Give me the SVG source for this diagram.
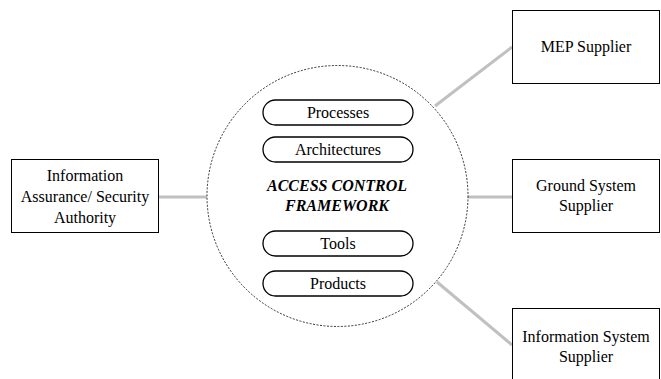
<svg xmlns="http://www.w3.org/2000/svg" width="661" height="379" viewBox="0 0 661 379" font-family="'Liberation Serif', 'Times New Roman', Times, serif">
<style>
.box{fill:#fff;stroke:#000;stroke-width:1}
.pill{fill:#fff;stroke:#000;stroke-width:1.3}
text{font-family:'Liberation Serif','Times New Roman',Times,serif;font-size:16px;fill:#000;text-anchor:middle}
.b{font-weight:bold;font-style:italic}
.c{stroke:#c0c0c0;stroke-width:3;fill:none}
</style>
<rect width="661" height="379" fill="#fff"/>
<g id="connectors">
<line class="c" x1="158" y1="197" x2="207" y2="197"/>
<line class="c" x1="435" y1="106" x2="512" y2="47"/>
<line class="c" x1="467" y1="197" x2="512" y2="197"/>
<line class="c" x1="437" y1="282" x2="512" y2="345"/>
</g>
<g id="framework">
<circle cx="337.5" cy="196" r="130.5" fill="#fff" stroke="#000" stroke-width="0.8" stroke-dasharray="2,1.5"/>
<text class="b" x="337" y="191">ACCESS CONTROL</text>
<text class="b" x="337" y="211">FRAMEWORK</text>
</g>
<g id="processes"><rect class="pill" x="263" y="100" width="150" height="25" rx="12.5"/><text x="338" y="118">Processes</text></g>
<g id="architectures"><rect class="pill" x="263" y="137" width="150" height="25" rx="12.5"/><text x="338" y="155">Architectures</text></g>
<g id="tools"><rect class="pill" x="263" y="231" width="150" height="25" rx="12.5"/><text x="338" y="249">Tools</text></g>
<g id="products"><rect class="pill" x="263" y="271" width="150" height="25" rx="12.5"/><text x="338" y="289">Products</text></g>
<g id="ia-authority"><rect class="box" x="11.5" y="159.5" width="147" height="73"/>
<text x="85" y="181">Information</text>
<text x="85" y="202">Assurance/ Security</text>
<text x="85" y="223">Authority</text></g>
<g id="mep-supplier"><rect class="box" x="512.5" y="10.5" width="147" height="73"/>
<text x="586" y="52">MEP Supplier</text></g>
<g id="ground-supplier"><rect class="box" x="512.5" y="159.5" width="147" height="73"/>
<text x="586" y="191">Ground System</text>
<text x="586" y="211">Supplier</text></g>
<g id="is-supplier"><rect class="box" x="512.5" y="308.5" width="147" height="80"/>
<text x="586" y="342">Information System</text>
<text x="586" y="362">Supplier</text></g>
</svg>
